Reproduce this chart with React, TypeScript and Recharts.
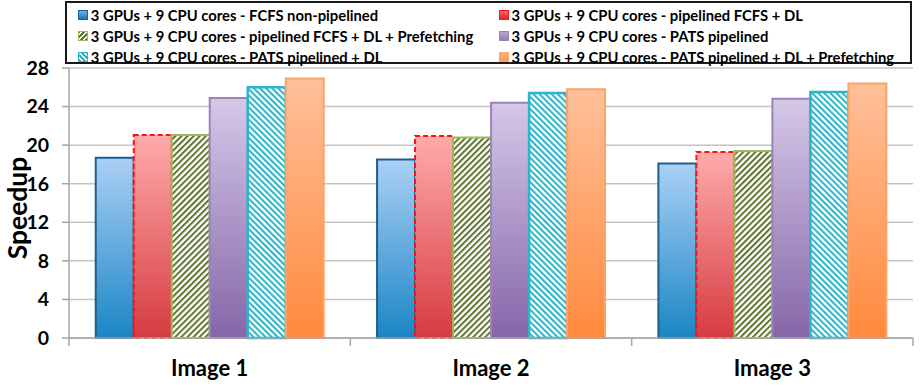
import { BarChart, Bar, XAxis, YAxis, CartesianGrid } from 'recharts'

const categories = ['Image 1', 'Image 2', 'Image 3']
const fcfsNonPipelined = [18.7, 18.5, 18.1]
const pipelinedFcfsDl = [21.05, 20.95, 19.3]
const pipelinedFcfsDlPrefetch = [21.05, 20.8, 19.4]
const patsPipelined = [24.9, 24.4, 24.8]
const patsPipelinedDl = [26.0, 25.4, 25.5]
const patsPipelinedDlPrefetch = [26.9, 25.8, 26.4]
const yTicks = [0, 4, 8, 12, 16, 20, 24, 28]

const series = [
  { key: 's1', label: '3 GPUs + 9 CPU cores - FCFS non-pipelined', values: fcfsNonPipelined },
  { key: 's2', label: '3 GPUs + 9 CPU cores - pipelined FCFS + DL', values: pipelinedFcfsDl },
  { key: 's3', label: '3 GPUs + 9 CPU cores - pipelined FCFS + DL + Prefetching', values: pipelinedFcfsDlPrefetch },
  { key: 's4', label: '3 GPUs + 9 CPU cores - PATS pipelined', values: patsPipelined },
  { key: 's5', label: '3 GPUs + 9 CPU cores - PATS pipelined + DL', values: patsPipelinedDl },
  { key: 's6', label: '3 GPUs + 9 CPU cores - PATS pipelined + DL + Prefetching', values: patsPipelinedDlPrefetch },
]

const data = categories.map((c, i) => {
  const row: Record<string, string | number> = { name: c }
  series.forEach((s) => (row[s.key] = s.values[i]))
  return row
})

const styles: Record<string, { fill: string; stroke: string; dash?: string; sw: number; css: string }> = {
  s1: { fill: 'url(#gBlue)', stroke: '#1d5e8a', sw: 2, css: 'linear-gradient(#6fb0e6, #1a78b8)' },
  s2: { fill: 'url(#gRed)', stroke: '#ff1010', dash: '5 3', sw: 2, css: 'linear-gradient(#ff6b6b, #e02020)' },
  s3: { fill: 'url(#hGreen)', stroke: '#9bbb59', sw: 2, css: 'repeating-linear-gradient(-45deg, #5f7530 0 1.5px, #fff 1.5px 3.5px)' },
  s4: { fill: 'url(#gPurple)', stroke: '#9a83b9', sw: 2, css: 'linear-gradient(#b7a6d2, #9580b8)' },
  s5: { fill: 'url(#hCyan)', stroke: '#2db4c8', sw: 2.5, css: 'repeating-linear-gradient(45deg, #31b6c9 0 1.5px, #fff 1.5px 3.5px)' },
  s6: { fill: 'url(#gOrange)', stroke: '#f9a46a', sw: 2, css: 'linear-gradient(#ffb27f, #ff9a55)' },
}

const FONT = 'Lato, "Open Sans", sans-serif'

// pick a legend font size so the longest label spans about as much as in the original
function legendFontSize() {
  try {
    const ctx = document.createElement('canvas').getContext('2d')
    if (!ctx) return 15
    ctx.font = `700 100px Lato`
    const w = ctx.measureText(series[2].label).width
    return w > 0 ? (100 * 383) / w : 15
  } catch {
    return 15
  }
}

function CategoryTick(props: any) {
  const { x, y, payload } = props
  const off = payload?.offset ?? 140.7
  const last = payload?.index === categories.length - 1
  return (
    <g>
      <line x1={x - off} x2={x - off} y1={y} y2={y + 8} stroke="#a6a6a6" strokeWidth={1.5} />
      {last && <line x1={x + off} x2={x + off} y1={y} y2={y + 8} stroke="#a6a6a6" strokeWidth={1.5} />}
      <text x={x} y={y + 38} textAnchor="middle" fontFamily={FONT} fontWeight={700} fontSize={22} fill="#000">
        {payload.value}
      </text>
    </g>
  )
}

// legend: 2 columns, 3 rows, read row by row
function LegendBox() {
  const fs = legendFontSize()
  const colLeft = [10.8, 431.5]
  const rowMid = [11.8, 33.2, 54.4]
  return (
    <div
      style={{
        position: 'absolute',
        left: 65,
        top: 1,
        width: 843,
        height: 59,
        border: '2.5px solid #1a1a1a',
        background: '#fff',
        fontFamily: FONT,
        fontWeight: 700,
        fontSize: fs,
        color: '#000',
      }}
    >
      {series.map((s, i) => {
        const st = styles[s.key]
        return (
          <div
            key={s.key}
            style={{
              position: 'absolute',
              left: colLeft[i % 2],
              top: rowMid[Math.floor(i / 2)] - 10,
              height: 20,
              display: 'flex',
              alignItems: 'center',
              whiteSpace: 'nowrap',
            }}
          >
            <span
              style={{
                width: 8,
                height: 8,
                background: st.css,
                border: `1.5px ${st.dash ? 'dashed' : 'solid'} ${st.stroke}`,
                marginRight: 3,
                display: 'inline-block',
              }}
            />
            {s.label}
          </div>
        )
      })}
    </div>
  )
}

export default function App() {
  return (
    <div style={{ position: 'absolute', left: 0, top: 0, width: 921, height: 386, background: '#fff' }}>
      <BarChart
        width={921}
        height={386}
        data={data}
        margin={{ top: 68, right: 8, bottom: 0, left: 0 }}
        barCategoryGap="9.5%"
        barGap={0}
      >
        <defs>
          <linearGradient id="gBlue" x1="0" y1="0" x2="0" y2="1">
            <stop offset="0%" stopColor="#abd0f5" />
            <stop offset="100%" stopColor="#1a86c5" />
          </linearGradient>
          <linearGradient id="gRed" x1="0" y1="0" x2="0" y2="1">
            <stop offset="0%" stopColor="#ffabab" />
            <stop offset="100%" stopColor="#d63b40" />
          </linearGradient>
          <linearGradient id="gPurple" x1="0" y1="0" x2="0" y2="1">
            <stop offset="0%" stopColor="#d5c8e8" />
            <stop offset="100%" stopColor="#8566a8" />
          </linearGradient>
          <linearGradient id="gOrange" x1="0" y1="0" x2="0" y2="1">
            <stop offset="0%" stopColor="#ffc09a" />
            <stop offset="100%" stopColor="#ff8a3d" />
          </linearGradient>
          <pattern id="hGreen" width="4.3" height="10" patternUnits="userSpaceOnUse" patternTransform="rotate(45)">
            <rect width="4.3" height="10" fill="#fff" />
            <rect width="2" height="10" fill="#5f7530" />
          </pattern>
          <pattern id="hCyan" width="4.3" height="10" patternUnits="userSpaceOnUse" patternTransform="rotate(-45)">
            <rect width="4.3" height="10" fill="#fff" />
            <rect width="2.1" height="10" fill="#31b6c9" />
          </pattern>
        </defs>
        <CartesianGrid vertical={false} stroke="#c4c4c4" strokeWidth={1.5} />
        <XAxis
          dataKey="name"
          height={48}
          axisLine={{ stroke: '#a6a6a6', strokeWidth: 1.5 }}
          tickLine={false}
          tickSize={0}
          tickMargin={0}
          tick={<CategoryTick />}
          interval={0}
        />
        <YAxis
          width={69}
          domain={[0, 28]}
          ticks={yTicks}
          interval={0}
          axisLine={{ stroke: '#a6a6a6', strokeWidth: 1.5 }}
          tickLine={{ stroke: '#a6a6a6', strokeWidth: 1.5 }}
          tickSize={7}
          tickMargin={13}
          tick={{ fontFamily: FONT, fontWeight: 700, fontSize: 19.5, fill: '#000' }}
          label={{
            content: ({ viewBox }: any) => {
              const cy = viewBox.y + viewBox.height / 2 + 5
              return (
                <text
                  x={26.5}
                  y={cy}
                  transform={`rotate(-90, 26.5, ${cy})`}
                  textAnchor="middle"
                  fontFamily={FONT}
                  fontWeight={700}
                  fontSize={26.5}
                  fill="#000"
                >
                  Speedup
                </text>
              )
            },
          }}
        />
        {series.map((s) => {
          const st = styles[s.key]
          return (
            <Bar
              key={s.key}
              dataKey={s.key}
              fill={st.fill}
              stroke={st.stroke}
              strokeWidth={st.sw}
              strokeDasharray={st.dash}
              isAnimationActive={false}
            />
          )
        })}
      </BarChart>
      <LegendBox />
    </div>
  )
}
